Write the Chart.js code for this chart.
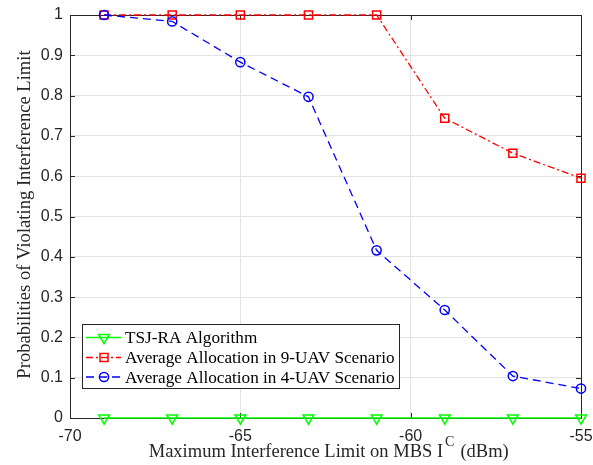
<!DOCTYPE html>
<html>
<head>
<meta charset="utf-8">
<script src="https://cdn.jsdelivr.net/npm/chart.js@4"></script>
<style>
html,body{margin:0;padding:0;background:#fff;}
#wrap{width:593px;height:465px;position:relative;}
</style>
</head>
<body>
<div id="wrap"><canvas id="c" width="593" height="465"></canvas></div>
<script>
const xValues = [-69, -67, -65, -63, -61, -59, -57, -55];
const tsjRA = [0, 0, 0, 0, 0, 0, 0, 0];
const alloc9UAV = [1, 1, 1, 1, 1, 0.744, 0.657, 0.595];
const alloc4UAV = [1, 0.984, 0.883, 0.797, 0.416, 0.268, 0.104, 0.073];
const seriesNames = ['TSJ-RA Algorithm', 'Average Allocation in 9-UAV Scenario', 'Average Allocation in 4-UAV Scenario'];
const xTitleMain = 'Maximum Interference Limit on MBS I';
const xTitleSup = 'C';
const xTitleEnd = '(dBm)';
const yTitle = 'Probabilities of Violating Interference Limit';

const AX = '#262626';
const SERIF = '"Liberation Serif", "Times New Roman", serif';
const SANS = '"Liberation Sans", Arial, sans-serif';

function pts(vals){ return vals.map((v,i)=>({x:xValues[i], y:v})); }

const styles = [
  {color:'#00ff00', dash:[], marker:'tri'},
  {color:'#ff0000', dash:[7,3,2,3], marker:'sq'},
  {color:'#0000ff', dash:[8,5], marker:'circ'}
];

function drawMarker(ctx, kind, x, y, color){
  ctx.save();
  ctx.setLineDash([]);
  ctx.strokeStyle = color; ctx.lineWidth = 1.5;
  ctx.beginPath();
  if (kind==='tri'){
    const r=6.2;
    ctx.moveTo(x - r*0.866, y - r/2);
    ctx.lineTo(x + r*0.866, y - r/2);
    ctx.lineTo(x, y + r);
    ctx.closePath();
  } else if (kind==='sq'){
    ctx.rect(x-4, y-4, 8, 8);
  } else {
    ctx.arc(x, y, 4.6, 0, Math.PI*2);
  }
  ctx.stroke();
  ctx.restore();
}

const matlabPlugin = {
  id:'matlab',
  beforeDatasetsDraw(chart){
    const {ctx, chartArea, scales} = chart;
    const {left,right,top,bottom} = chartArea;
    const x = scales.x, y = scales.y;
    ctx.save();
    ctx.strokeStyle = AX; ctx.lineWidth = 1; ctx.setLineDash([]);
    ctx.beginPath();
    x.ticks.forEach(t=>{
      const px = Math.round(x.getPixelForValue(t.value))+0.5;
      ctx.moveTo(px,bottom); ctx.lineTo(px,bottom-5);
      ctx.moveTo(px,top); ctx.lineTo(px,top+5);
    });
    y.ticks.forEach(t=>{
      const py = Math.round(y.getPixelForValue(t.value))+0.5;
      ctx.moveTo(left,py); ctx.lineTo(left+5,py);
      ctx.moveTo(right,py); ctx.lineTo(right-5,py);
    });
    ctx.stroke();
    ctx.strokeRect(Math.round(left)+0.5, Math.round(top)+0.5, Math.round(right-left), Math.round(bottom-top));
    ctx.restore();
  },
  afterDraw(chart){
    const {ctx} = chart;
    ctx.save();
    // y title
    ctx.fillStyle = AX;
    ctx.font = '18.6px ' + SERIF;
    ctx.save();
    ctx.translate(29.5, 214.5);
    ctx.rotate(-Math.PI/2);
    ctx.textAlign='center'; ctx.textBaseline='alphabetic';
    ctx.fillText(yTitle, 0, 0);
    ctx.restore();

    // x title with superscript
    const base = 457;
    ctx.textAlign='left'; ctx.textBaseline='alphabetic';
    ctx.font = '18.5px ' + SERIF;
    const w1 = ctx.measureText(xTitleMain).width;
    const w3 = ctx.measureText(xTitleEnd).width;
    ctx.font = '14px ' + SERIF;
    const w2 = ctx.measureText(xTitleSup).width;
    const total = w1 + 2 + w2 + 6 + w3;
    const sx = 328.7 - total/2;
    ctx.font = '18.5px ' + SERIF;
    ctx.fillText(xTitleMain, sx, base);
    ctx.font = '14px ' + SERIF;
    ctx.fillText(xTitleSup, sx + w1 + 2, base - 11);
    ctx.font = '18.5px ' + SERIF;
    ctx.fillText(xTitleEnd, sx + w1 + 2 + w2 + 6, base);

    // legend
    const lx=82.5, ly=324.5, lw=317, lh=64;
    ctx.fillStyle='#fff';
    ctx.fillRect(lx,ly,lw,lh);
    ctx.strokeStyle=AX; ctx.lineWidth=1;
    ctx.strokeRect(lx,ly,lw,lh);
    const rows=[337.5, 357.5, 377];
    ctx.font='17.2px ' + SERIF;
    ctx.textBaseline='middle';
    rows.forEach((ry,i)=>{
      const st=styles[i];
      ctx.save();
      ctx.strokeStyle=st.color; ctx.lineWidth=1.3; ctx.setLineDash(st.dash);
      ctx.beginPath(); ctx.moveTo(86,ry); ctx.lineTo(121,ry); ctx.stroke();
      ctx.restore();
      drawMarker(ctx, st.marker, 104, ry, st.color);
      ctx.fillStyle='#000';
      ctx.fillText(seriesNames[i], 125, ry+1);
    });
    ctx.restore();
  }
};

new Chart(document.getElementById('c'), {
  type:'line',
  data:{
    datasets:[
      {label:seriesNames[0], data:pts(tsjRA), borderColor:'#00ff00', backgroundColor:'transparent', borderWidth:1.3,
       pointStyle:'triangle', pointRotation:180, pointRadius:6.2, pointBorderWidth:1.5, pointBackgroundColor:'transparent', pointBorderColor:'#00ff00', clip:false, order:3},
      {label:seriesNames[1], data:pts(alloc9UAV), borderColor:'#ff0000', backgroundColor:'transparent', borderWidth:1.3, borderDash:[7,3,2,3],
       pointStyle:'rect', pointRadius:5.7, pointBorderWidth:1.5, pointBackgroundColor:'transparent', pointBorderColor:'#ff0000', clip:false, order:2},
      {label:seriesNames[2], data:pts(alloc4UAV), borderColor:'#0000ff', backgroundColor:'transparent', borderWidth:1.3, borderDash:[8,5],
       pointStyle:'circle', pointRadius:4.6, pointBorderWidth:1.5, pointBackgroundColor:'transparent', pointBorderColor:'#0000ff', clip:false, order:1}
    ]
  },
  options:{
    responsive:false, animation:false, events:[],
    layout:{padding:{left:0, right:12, top:15, bottom:0}},
    plugins:{legend:{display:false}, tooltip:{enabled:false}, title:{display:false}},
    scales:{
      x:{type:'linear', min:-70, max:-55,
        ticks:{stepSize:5, color:AX, font:{family:SANS, size:16}, padding:9, maxRotation:0},
        grid:{color:'#e3e3e3', drawTicks:false, lineWidth:1},
        border:{display:false},
        afterFit(s){ s.height = 47; s.paddingRight = 0; s.paddingLeft = 0; }
      },
      y:{min:0, max:1,
        ticks:{stepSize:0.1, color:AX, font:{family:SANS, size:16}, padding:7,
          callback:(v)=>String(Math.round(v*10)/10)},
        grid:{color:'#e3e3e3', drawTicks:false, lineWidth:1},
        border:{display:false},
        afterFit(s){ s.width = 70; s.paddingTop = 0; s.paddingBottom = 0; }
      }
    }
  },
  plugins:[matlabPlugin]
});
</script>
</body>
</html>
